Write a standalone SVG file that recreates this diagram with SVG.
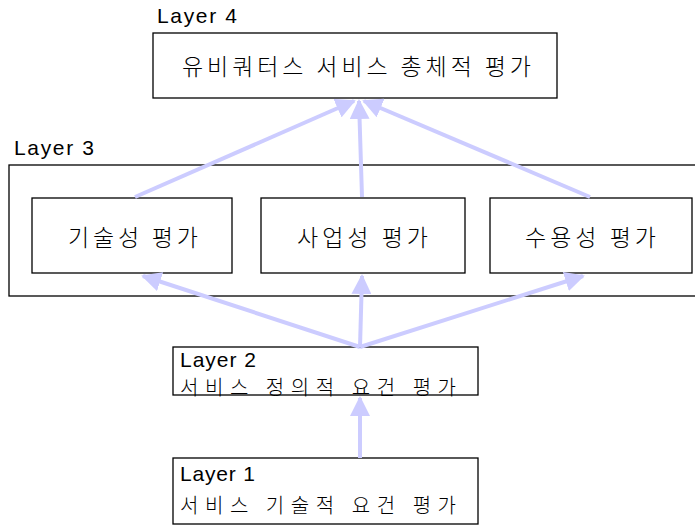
<svg xmlns="http://www.w3.org/2000/svg" width="695" height="529" viewBox="0 0 695 529">
<style>
.box{fill:#fff;stroke:#000;stroke-width:1.3}
.lbl{font-family:"Liberation Sans",Arial,sans-serif;font-size:21px;fill:#000}
.kr{font-family:"Noto Sans CJK KR","Noto Sans",sans-serif;font-size:23px;font-weight:300;fill:#000}
.kr2{font-size:20px}
.arr{stroke:#ccccff;stroke-width:4;fill:none;marker-end:url(#ah)}
</style>
<defs>
<marker id="ah" viewBox="0 0 10 10" refX="9" refY="5" markerWidth="5" markerHeight="5" orient="auto" markerUnits="strokeWidth">
<path d="M0,0 L10,5 L0,10 z" fill="#ccccff"/>
</marker>
</defs>
<g id="layer3">
<text class="lbl" x="14" y="155" textLength="80" lengthAdjust="spacing">Layer 3</text>
<rect class="box" x="9" y="165" width="700" height="131"/>
</g>
<g id="layer4">
<text class="lbl" x="157" y="23" textLength="80" lengthAdjust="spacing">Layer 4</text>
<rect class="box" x="153" y="33" width="404" height="65"/>
<text class="kr" x="182" y="75" textLength="349" lengthAdjust="spacing">유비쿼터스 서비스 총체적 평가</text>
</g>
<g id="tech">
<rect class="box" x="32" y="198" width="200" height="75"/>
<text class="kr" x="68" y="246" textLength="130" lengthAdjust="spacing">기술성 평가</text>
</g>
<g id="biz">
<rect class="box" x="261" y="198" width="204" height="75"/>
<text class="kr" x="297" y="246" textLength="131" lengthAdjust="spacing">사업성 평가</text>
</g>
<g id="accept">
<rect class="box" x="490" y="198" width="202" height="75"/>
<text class="kr" x="525" y="246" textLength="131" lengthAdjust="spacing">수용성 평가</text>
</g>
<g id="layer2">
<rect class="box" x="173" y="347" width="305" height="48"/>
<text class="lbl" x="180" y="367" font-size="20" textLength="76" lengthAdjust="spacing">Layer 2</text>
<text class="kr kr2" x="180" y="395" textLength="276" lengthAdjust="spacing">서비스 정의적 요건 평가</text>
</g>
<g id="layer1">
<rect class="box" x="173" y="458" width="305" height="66"/>
<text class="lbl" x="180" y="481" font-size="20" textLength="75" lengthAdjust="spacing">Layer 1</text>
<text class="kr kr2" x="180" y="513" textLength="276" lengthAdjust="spacing">서비스 기술적 요건 평가</text>
</g>
<g id="connectors">
<line class="arr" x1="135" y1="197" x2="354" y2="101"/>
<line class="arr" x1="362" y1="197" x2="359" y2="101"/>
<line class="arr" x1="590" y1="197" x2="364" y2="101"/>
<line class="arr" x1="360" y1="347" x2="143" y2="276"/>
<line class="arr" x1="360" y1="347" x2="362" y2="276"/>
<line class="arr" x1="360" y1="347" x2="583" y2="276"/>
<line class="arr" x1="360" y1="458" x2="360" y2="398"/>
</g>
</svg>
